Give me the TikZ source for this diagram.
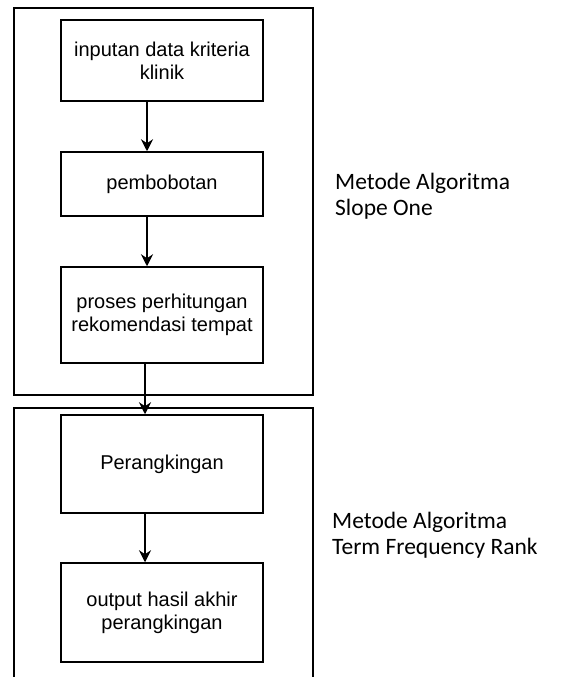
\documentclass[tikz,border=0pt]{standalone}
\usepackage{fontspec}
\setmainfont{Liberation Sans}
\newfontfamily\labelfont{Carlito}
\usetikzlibrary{arrows.meta}
\tikzset{
  stepbox/.style={draw, line width=1.5pt, rectangle, minimum width=202pt,
    align=center, inner sep=0pt, font=\fontsize{20}{23}\selectfont},
  groupbox/.style={draw, line width=1.3pt},
  flow/.style={line width=1.8pt, -{Stealth[width=12pt,length=12pt,inset=4pt]}},
  methodlabel/.style={anchor=west, align=left, inner sep=0pt,
    font=\labelfont\fontsize{23.5}{26}\selectfont}
}
\begin{document}
\begin{tikzpicture}[x=1pt,y=-1pt]
\useasboundingbox (0,0) rectangle (560,677);
% groups
\draw[groupbox] (14,8) rectangle (313,395);
\draw[groupbox] (14,677) -- (14,408) -- (313,408) -- (313,677);
% steps
\node[stepbox, minimum height=81pt] (input) at (162,60.5) {inputan data kriteria\\klinik};
\node[stepbox, minimum height=64pt] (bobot) at (162,184) {pembobotan};
\node[stepbox, minimum height=96pt] (hitung) at (162,315) {proses perhitungan\\rekomendasi tempat};
\node[stepbox, minimum height=98pt] (rank) at (162,464) {Perangkingan};
\node[stepbox, minimum height=99pt] (output) at (162,612.5) {output hasil akhir\\perangkingan};
% arrows
\coordinate (ax) at (147,0);
\coordinate (bx) at (145,0);
\draw[flow] (input.south -| ax) -- (bobot.north -| ax);
\draw[flow] (bobot.south -| ax) -- (hitung.north -| ax);
\draw[flow] (hitung.south -| bx) -- (rank.north -| bx);
\draw[flow] (rank.south -| bx) -- (output.north -| bx);
% right
\node[methodlabel] (slope) at (335,196) {Metode Algoritma\\Slope One};
\node[methodlabel] (tfr) at (332,535) {Metode Algoritma\\Term Frequency Rank};
\end{tikzpicture}
\end{document}
